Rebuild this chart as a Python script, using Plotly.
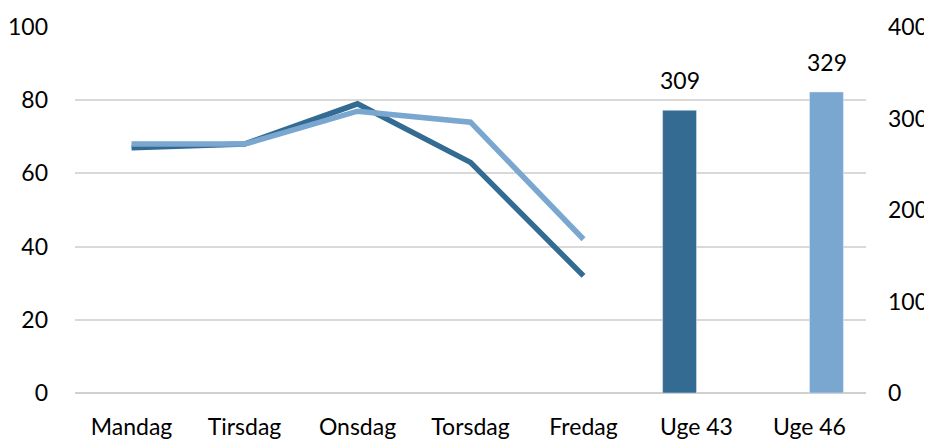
import plotly.graph_objects as go

dage = ["Mandag", "Tirsdag", "Onsdag", "Torsdag", "Fredag"]
uger = ["Uge 43", "Uge 46"]
kategorier = dage + uger

uge43_dag = [67, 68, 79, 63, 32]
uge46_dag = [68, 68, 77, 74, 42]
uge43_total = [309, None]
uge46_total = [None, 329]

mork = "rgb(51,107,146)"
lys = "rgb(122,167,208)"
skrift = dict(family="Lato, 'Open Sans', sans-serif", size=23, color="#000000")

fig = go.Figure()

# totaler som søjler på højre akse
fig.add_trace(go.Bar(x=uger, y=uge43_total, yaxis="y2", marker=dict(color=mork), name="Uge 43 total"))
fig.add_trace(go.Bar(x=uger, y=uge46_total, yaxis="y2", marker=dict(color=lys), name="Uge 46 total"))

# dagsværdier som linjer på venstre akse
fig.add_trace(go.Scatter(x=dage, y=uge43_dag, mode="lines", line=dict(color=mork, width=5.5),
                         name="Uge 43"))
fig.add_trace(go.Scatter(x=dage, y=uge46_dag, mode="lines", line=dict(color=lys, width=5.5),
                         name="Uge 46"))

# værdier over søjlerne (søjlerne står forskudt i gruppen)
etiketter = []
for uge, vaerdi, skub in [(uger[0], uge43_total[0], -17), (uger[1], uge46_total[1], 17)]:
    etiketter.append(dict(x=uge, y=vaerdi, xref="x", yref="y2", text=str(vaerdi), showarrow=False,
                          yanchor="bottom", xshift=skub, yshift=14, font=skrift))

# siden har 8px margin i body, så figuren flyttes 8px
fig.update_layout(
    width=924, height=431,
    margin=dict(l=67, r=66, t=19, b=46, autoexpand=False),
    paper_bgcolor="white", plot_bgcolor="white",
    showlegend=False, barmode="group", bargap=0.4,
    font=skrift, annotations=etiketter,
    xaxis=dict(type="category", categoryorder="array", categoryarray=kategorier,
               range=[-0.5, len(kategorier) - 0.5],
               showgrid=False, showline=False, zeroline=False, ticks="", automargin=False,
               ticklabelstandoff=18, tickfont=skrift),
    yaxis=dict(range=[0, 100], dtick=20, showgrid=True, gridcolor="#d9d9d9", gridwidth=2,
               zeroline=True, zerolinecolor="#d0d0d0", zerolinewidth=2, showline=False,
               ticks="", ticklabelstandoff=26, tickfont=skrift, automargin=False),
    yaxis2=dict(range=[0, 400], dtick=100, overlaying="y", side="right", showgrid=False,
                zeroline=False, showline=False, ticks="", ticklabelstandoff=21, tickfont=skrift,
                automargin=False),
)

fig.write_html("out.html")
